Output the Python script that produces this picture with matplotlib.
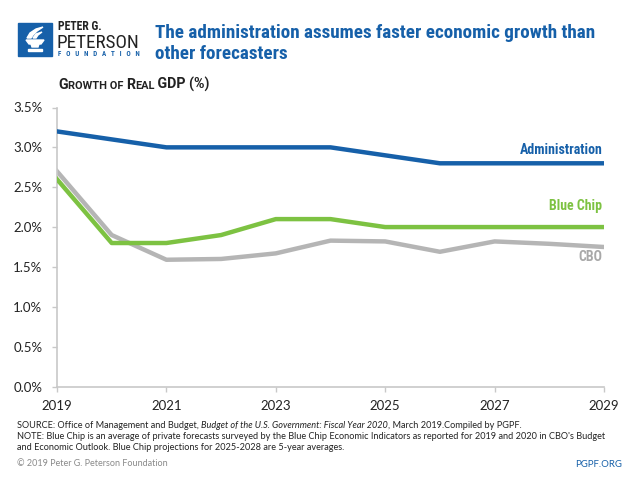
import matplotlib
matplotlib.use("Agg")
import matplotlib.pyplot as plt
from matplotlib.patches import Rectangle, Polygon

years = [2019, 2020, 2021, 2022, 2023, 2024, 2025, 2026, 2027, 2028, 2029]
administration = [3.2, 3.1, 3.0, 3.0, 3.0, 3.0, 2.9, 2.8, 2.8, 2.8, 2.8]
blue_chip = [2.6, 1.8, 1.8, 1.9, 2.1, 2.1, 2.0, 2.0, 2.0, 2.0, 2.0]
cbo = [2.7, 1.9, 1.59, 1.6, 1.67, 1.83, 1.82, 1.69, 1.82, 1.79, 1.75]
x_ticks = [2019, 2021, 2023, 2025, 2027, 2029]
y_ticks = [0.0, 0.5, 1.0, 1.5, 2.0, 2.5, 3.0, 3.5]
y_tick_labels = ["0.0%", "0.5%", "1.0%", "1.5%", "2.0%", "2.5%", "3.0%", "3.5%"]

BLUE = "#1660A9"
GREEN = "#7DC242"
GRAY = "#B5B5B5"
TXT = "#222222"

narrow = ["Roboto Condensed", "DejaVu Sans"]
body = ["Lato", "DejaVu Sans"]
sub = ["Roboto", "DejaVu Sans"]

W, H = 640, 480
fig = plt.figure(figsize=(6.4, 4.8), dpi=100)

def px(x, y):
    return x / W, 1 - y / H

ax = fig.add_axes([57 / W, 1 - 386.5 / H, (604 - 57) / W, (386.5 - 107.5) / H])
ax.plot(years, administration, color=BLUE, lw=3.2, zorder=3)
ax.plot(years, cbo, color=GRAY, lw=3.2, zorder=2)
ax.plot(years, blue_chip, color=GREEN, lw=3.2, zorder=3)
ax.set_xlim(2019, 2029)
ax.set_ylim(0, 3.5)
ax.set_xticks(x_ticks)
ax.set_xticklabels([str(v) for v in x_ticks])
ax.set_yticks(y_ticks)
ax.set_yticklabels(y_tick_labels)
for s in ["top", "right"]:
    ax.spines[s].set_visible(False)
for s in ["left", "bottom"]:
    ax.spines[s].set_color("#C8C8C8")
    ax.spines[s].set_linewidth(1.2)
ax.tick_params(axis="both", colors="#C8C8C8", labelcolor=TXT, length=3.5, width=1,
               labelsize=9.5)
ax.tick_params(axis="y", pad=7)
ax.tick_params(axis="x", pad=6)
for lbl in ax.get_xticklabels() + ax.get_yticklabels():
    lbl.set_fontfamily(body)

# series labels
ax.text(2029 - 0.03, 2.92, "Administration", color=BLUE, ha="right", va="baseline",
        fontsize=10, fontfamily=narrow, fontweight="bold")
ax.text(2029 - 0.03, 2.22, "Blue Chip", color=GREEN, ha="right", va="baseline",
        fontsize=10, fontfamily=narrow, fontweight="bold")
ax.text(2029 - 0.03, 1.57, "CBO", color="#A8A8A8", ha="right", va="baseline",
        fontsize=10, fontfamily=narrow, fontweight="bold")

# logo
fig.patches.append(Rectangle(px(18, 56), 34 / W, 33 / H, transform=fig.transFigure,
                             color=BLUE, zorder=1))
def poly(pts):
    fig.patches.append(Polygon([px(a, b) for a, b in pts], closed=True,
                               transform=fig.transFigure, color="white", zorder=2))
poly([(26, 40), (44, 40), (41, 44), (29, 44)])
poly([(31, 44), (39, 44), (38, 47), (32, 47)])
poly([(28, 49), (42, 49), (42, 51), (28, 51)])
poly([(27, 38), (30, 33), (36, 29), (43, 27), (37, 31), (33, 35), (31, 38)])
poly([(33, 38), (36, 34), (42, 32), (38, 35), (36, 38)])

fig.text(*px(58, 30.5), "PETER G.", fontsize=8.5, fontfamily=narrow, fontweight="bold",
         color=TXT, va="baseline")
fig.text(*px(57, 47.5), "PETERSON", fontsize=13.8, fontfamily=narrow, color=TXT,
         va="baseline")
fig.text(*px(58, 55.5), "F   O   U   N   D   A   T   I   O   N", fontsize=5.0,
         fontfamily=narrow, fontweight="bold", color=BLUE, va="baseline")

# title
fig.text(*px(155, 38), "The administration assumes faster economic growth than",
         fontsize=13.8, fontfamily=narrow, fontweight="bold", color=BLUE, va="baseline")
fig.text(*px(155, 59), "other forecasters",
         fontsize=13.8, fontfamily=narrow, fontweight="bold", color=BLUE, va="baseline")

# small-caps subtitle
fig.canvas.draw()
renderer = fig.canvas.get_renderer()
parts = [("G", 10.2), ("ROWTH OF ", 7.9), ("R", 10.2), ("EAL", 7.9), (" GDP (%)", 10.2)]
xcur = 58
for txt, sz in parts:
    t = fig.text(*px(xcur, 89), txt, fontsize=sz, fontfamily=sub, fontweight="bold",
                 color=TXT, va="baseline")
    xcur += t.get_window_extent(renderer).width

# footer
fs = 6.55
x0 = 17
src_y = 428
t1 = fig.text(*px(x0, src_y), "SOURCE: Office of Management and Budget, ", fontsize=fs,
              fontfamily=body, color=TXT, va="baseline")
w1 = t1.get_window_extent(renderer).width
t2 = fig.text(*px(x0 + w1, src_y), "Budget of the U.S. Government: Fiscal Year 2020",
              fontsize=fs, fontfamily=body, style="italic", color=TXT, va="baseline")
w2 = t2.get_window_extent(renderer).width
fig.text(*px(x0 + w1 + w2, src_y), ", March 2019.Compiled by PGPF.", fontsize=fs,
         fontfamily=body, color=TXT, va="baseline")
fig.text(*px(x0, 439), "NOTE: Blue Chip is an average of private forecasts surveyed by the Blue Chip "
         "Economic Indicators as reported for 2019 and 2020 in CBO's Budget",
         fontsize=fs, fontfamily=body, color=TXT, va="baseline")
fig.text(*px(x0, 450), "and Economic Outlook. Blue Chip projections for 2025-2028 are 5-year averages.",
         fontsize=fs, fontfamily=body, color=TXT, va="baseline")
fig.text(*px(x0, 466), "\u00a9 2019 Peter G. Peterson Foundation", fontsize=6.45,
         fontfamily=body, color="#8A8A8A", va="baseline")
fig.text(*px(622, 467), "PGPF.ORG", fontsize=6.9, fontfamily=body, color=BLUE,
         ha="right", va="baseline")

fig.savefig("out.png", dpi=100)
